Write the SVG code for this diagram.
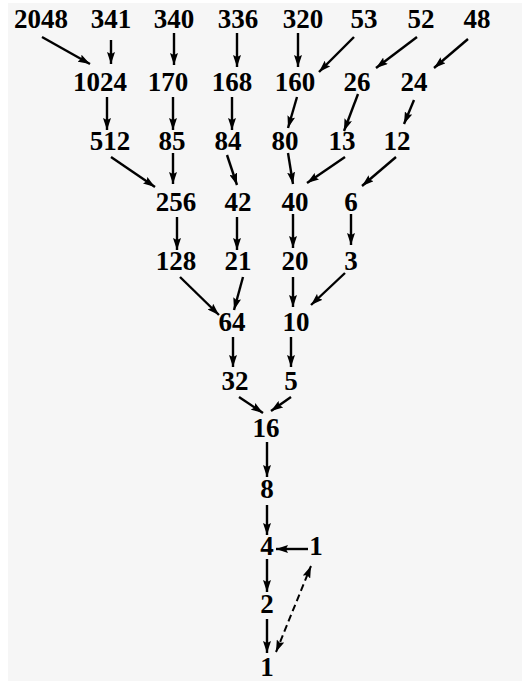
<svg xmlns="http://www.w3.org/2000/svg" width="522" height="681" viewBox="0 0 522 681">
<style>
text{font-family:"Liberation Serif","Times New Roman",serif;font-weight:bold;font-size:27px;text-anchor:middle;fill:#000}
.e{stroke:#000;stroke-width:2.4;fill:none;marker-end:url(#ah)}
.d{stroke:#000;stroke-width:2;fill:none;stroke-dasharray:7,4;marker-end:url(#ah);marker-start:url(#ahs)}
</style>
<defs>
<marker id="ah" markerUnits="userSpaceOnUse" markerWidth="13" markerHeight="8" refX="12" refY="4" orient="auto"><path d="M0,0 L12,4 L0,8 L2,4 z" fill="#000"/></marker>
<marker id="ahs" markerUnits="userSpaceOnUse" markerWidth="13" markerHeight="8" refX="0" refY="4" orient="auto"><path d="M12,0 L0,4 L12,8 L10,4 z" fill="#000"/></marker>
</defs>
<rect width="522" height="681" fill="#fff"/>
<rect x="8" y="3" width="514" height="678" fill="#f6f6f6"/>
<g id="connectors">
<line class="e" x1="42" y1="37" x2="90" y2="64"/>
<line class="e" x1="111" y1="40" x2="111" y2="64"/>
<line class="e" x1="174" y1="33" x2="174" y2="65"/>
<line class="e" x1="237" y1="33" x2="237" y2="67"/>
<line class="e" x1="298" y1="33" x2="298" y2="67"/>
<line class="e" x1="354" y1="37" x2="319" y2="72"/>
<line class="e" x1="417" y1="37" x2="376" y2="68"/>
<line class="e" x1="468" y1="39" x2="434" y2="68"/>
<line class="e" x1="107" y1="97" x2="107" y2="130"/>
<line class="e" x1="173" y1="97" x2="173" y2="130"/>
<line class="e" x1="232" y1="97" x2="232" y2="130"/>
<line class="e" x1="297" y1="97" x2="288" y2="128"/>
<line class="e" x1="358" y1="94" x2="344" y2="131"/>
<line class="e" x1="414" y1="100" x2="404" y2="124"/>
<line class="e" x1="111" y1="157" x2="155" y2="187"/>
<line class="e" x1="173" y1="153" x2="173" y2="184"/>
<line class="e" x1="227" y1="155" x2="237" y2="185"/>
<line class="e" x1="288" y1="153" x2="293" y2="184"/>
<line class="e" x1="345" y1="157" x2="307" y2="183"/>
<line class="e" x1="396" y1="157" x2="362" y2="186"/>
<line class="e" x1="177" y1="217" x2="177" y2="250"/>
<line class="e" x1="237" y1="217" x2="237" y2="250"/>
<line class="e" x1="293" y1="214" x2="293" y2="248"/>
<line class="e" x1="351" y1="214" x2="351" y2="245"/>
<line class="e" x1="180" y1="277" x2="219" y2="315"/>
<line class="e" x1="243" y1="277" x2="234" y2="310"/>
<line class="e" x1="293" y1="277" x2="293" y2="307"/>
<line class="e" x1="345" y1="273" x2="311" y2="305"/>
<line class="e" x1="233" y1="337" x2="233" y2="367"/>
<line class="e" x1="291" y1="337" x2="291" y2="367"/>
<line class="e" x1="239" y1="397" x2="263" y2="413"/>
<line class="e" x1="291" y1="397" x2="271" y2="411"/>
<line class="e" x1="267" y1="442" x2="267" y2="477"/>
<line class="e" x1="267" y1="505" x2="267" y2="535"/>
<line class="e" x1="308" y1="549" x2="276" y2="549"/>
<line class="e" x1="267" y1="559" x2="267" y2="592"/>
<line class="e" x1="267" y1="619" x2="267" y2="653"/>
<line class="d" x1="276" y1="652" x2="311" y2="566"/>
</g>
<g id="n2048"><text x="41" y="28">2048</text></g>
<g id="n341"><text x="111" y="28">341</text></g>
<g id="n340"><text x="174" y="28">340</text></g>
<g id="n336"><text x="238" y="28">336</text></g>
<g id="n320"><text x="303" y="28">320</text></g>
<g id="n53"><text x="364" y="28">53</text></g>
<g id="n52"><text x="421" y="28">52</text></g>
<g id="n48"><text x="477" y="28">48</text></g>
<g id="n1024"><text x="100" y="91">1024</text></g>
<g id="n170"><text x="168" y="91">170</text></g>
<g id="n168"><text x="232" y="91">168</text></g>
<g id="n160"><text x="295" y="91">160</text></g>
<g id="n26"><text x="357" y="91">26</text></g>
<g id="n24"><text x="414" y="91">24</text></g>
<g id="n512"><text x="110" y="150">512</text></g>
<g id="n85"><text x="172" y="150">85</text></g>
<g id="n84"><text x="228" y="150">84</text></g>
<g id="n80"><text x="285" y="150">80</text></g>
<g id="n13"><text x="342" y="150">13</text></g>
<g id="n12"><text x="397" y="150">12</text></g>
<g id="n256"><text x="176" y="211">256</text></g>
<g id="n42"><text x="238" y="211">42</text></g>
<g id="n40"><text x="295" y="211">40</text></g>
<g id="n6"><text x="351" y="211">6</text></g>
<g id="n128"><text x="176" y="270">128</text></g>
<g id="n21"><text x="238" y="270">21</text></g>
<g id="n20"><text x="295" y="270">20</text></g>
<g id="n3"><text x="351" y="270">3</text></g>
<g id="n64"><text x="232" y="331">64</text></g>
<g id="n10"><text x="296" y="331">10</text></g>
<g id="n32"><text x="235" y="390">32</text></g>
<g id="n5"><text x="291" y="390">5</text></g>
<g id="n16"><text x="266" y="437">16</text></g>
<g id="n8"><text x="267" y="498">8</text></g>
<g id="n4"><text x="267" y="555">4</text></g>
<g id="n1a"><text x="316" y="555">1</text></g>
<g id="n2"><text x="267" y="613">2</text></g>
<g id="n1b"><text x="267" y="676">1</text></g>
</svg>
